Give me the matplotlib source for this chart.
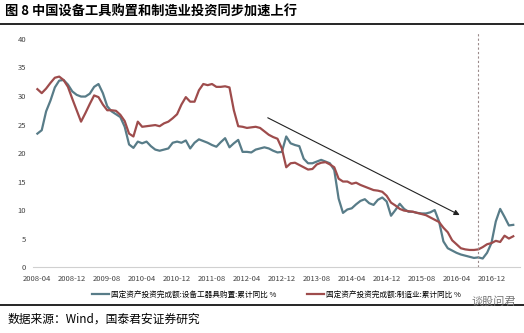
import pandas as pd
import matplotlib.pyplot as plt

plt.rcParams['font.family'] = ['Noto Sans CJK SC', 'DejaVu Sans']

# monthly cumulative yoy, 2008-04 .. 2017-05
equip = [23.4, 24.0, 27.3, 29.2, 31.5, 32.7, 32.8, 32.0, 30.8, 30.2,
         29.9, 29.9, 30.4, 31.6, 32.1, 30.5, 28.2, 27.3, 26.8, 26.3,
         24.6, 21.5, 20.9, 22.0, 21.7, 22.0, 21.2, 20.6, 20.4, 20.6,
         20.8, 21.8, 22.0, 21.8, 22.2, 20.8, 21.8, 22.4, 22.1, 21.8,
         21.4, 21.1, 21.9, 22.6, 21.0, 21.7, 22.3, 20.2, 20.2, 20.1,
         20.6, 20.8, 21.0, 20.8, 20.4, 20.1, 20.2, 22.9, 21.7, 21.4,
         21.2, 19.0, 18.2, 18.2, 18.5, 18.8, 18.5, 18.2, 17.0, 12.0,
         9.5, 10.1, 10.3, 11.0, 11.6, 11.9, 11.2, 10.9, 11.8, 12.2,
         11.5, 9.0, 10.0, 11.1, 10.2, 9.7, 9.7, 9.5, 9.4, 9.4,
         9.6, 10.0, 8.0, 4.5, 3.3, 2.9, 2.5, 2.2, 2.0, 1.8,
         1.6, 1.7, 1.5, 2.5, 4.2, 8.0, 10.2, 8.8, 7.3, 7.4]
manuf = [31.2, 30.5, 31.3, 32.3, 33.2, 33.4, 32.8, 31.6, 29.5, 27.5,
         25.5, 27.0, 28.6, 30.1, 29.8, 28.5, 27.5, 27.5, 27.4, 26.7,
         25.6, 23.4, 22.9, 25.5, 24.6, 24.7, 24.8, 24.9, 24.7, 25.2,
         25.5, 26.1, 26.8, 28.5, 29.8, 29.0, 29.0, 31.0, 32.1, 31.9,
         32.1, 31.6, 31.6, 31.7, 31.5, 27.5, 24.7, 24.6, 24.4, 24.5,
         24.6, 24.4, 23.8, 23.2, 22.8, 22.5, 20.8, 17.5, 18.2, 18.3,
         17.9, 17.5, 17.1, 17.2, 18.0, 18.3, 18.4, 18.0, 17.5, 15.5,
         15.0, 15.0, 14.6, 14.8, 14.4, 14.1, 13.8, 13.5, 13.4, 13.2,
         12.5, 11.3, 10.8, 10.2, 9.9, 9.8, 9.7, 9.5, 9.3, 9.1,
         8.7, 8.3, 7.9, 6.9, 6.1, 4.7, 4.0, 3.3, 3.1, 3.0,
         3.0, 3.1, 3.5, 4.0, 4.2, 4.6, 4.4, 5.5, 5.0, 5.4]
months = pd.date_range('2008-04', periods=len(equip), freq='MS')
labels = [d.strftime('%Y-%m') for d in months]

fig = plt.figure(figsize=(5.24, 3.33), dpi=100)
ax = fig.add_axes([0.063, 0.198, 0.929, 0.685])

x = list(range(len(equip)))
ax.plot(x, equip, color='#587c88', lw=1.6,
        label='固定资产投资完成额:设备工器具购置:累计同比 %')
ax.plot(x, manuf, color='#9e4c4c', lw=1.6,
        label='固定资产投资完成额:制造业:累计同比 %')

# trend arrow + dashed marker
ax.annotate('', xy=(97.3, 8.9), xytext=(52.2, 26.4),
            arrowprops=dict(arrowstyle='-|>', color='#222222', lw=0.8,
                            mutation_scale=8))
ax.axvline(101, color='#9a8a8a', lw=0.8, ls=(0, (2, 2)), ymax=1.03, clip_on=False)

ax.set_ylim(0, 40)
ax.set_xlim(-1, 110.5)
ax.set_yticks(range(0, 41, 5))
ax.set_xticks(x[::8])
ax.set_xticklabels(labels[::8])
ax.tick_params(axis='both', length=0, labelsize=5.5, colors='#444444')
ax.tick_params(axis='y', pad=5)
ax.tick_params(axis='x', pad=6)
for s in ['top', 'right', 'left']:
    ax.spines[s].set_visible(False)
ax.spines['bottom'].set_color('#d0d0d0')

ax.legend(loc='upper center', bbox_to_anchor=(0.5, -0.075), ncol=2, frameon=False,
          fontsize=5.5, handlelength=2.2, columnspacing=4, handletextpad=0.3)

fig.text(0.01, 0.965, '图 8 中国设备工具购置和制造业投资同步加速上行',
         fontsize=9.5, fontweight='bold', va='center')
fig.add_artist(plt.Line2D([0, 1], [0.928, 0.928], color='black', lw=1.2))
fig.add_artist(plt.Line2D([0, 1], [0.085, 0.085], color='black', lw=1.2))
fig.text(0.015, 0.042, '数据来源：Wind，国泰君安证券研究', fontsize=8.5, va='center')
fig.text(0.985, 0.095, '谈股问君', fontsize=8, color='#777777', ha='right', va='center')

plt.savefig('out.png', dpi=100)
